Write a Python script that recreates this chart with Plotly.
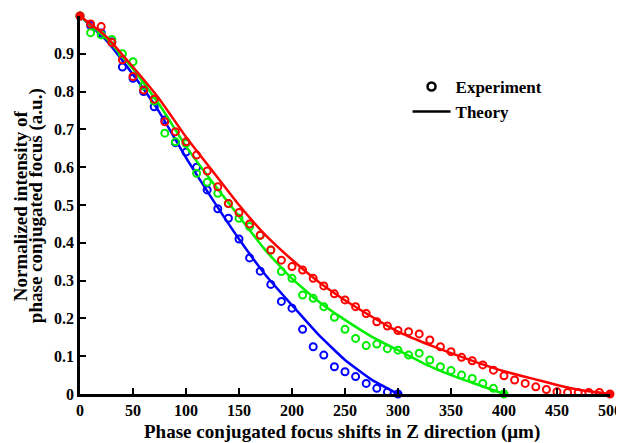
import plotly.graph_objects as go

# ---- data ----
theory_x_blue = [0, 25, 50, 75, 100, 125, 150, 175, 200, 225, 250, 275, 300]
theory_y_blue = [1.0, 0.935, 0.845, 0.745, 0.625, 0.515, 0.41, 0.315, 0.235, 0.157, 0.09, 0.038, 0.0]

theory_x_green = [0, 25, 50, 75, 100, 125, 150, 175, 200, 225, 250, 275, 300, 325, 350, 375, 400]
theory_y_green = [1.0, 0.94, 0.86, 0.765, 0.655, 0.56, 0.47, 0.38, 0.305, 0.245, 0.196, 0.152, 0.116, 0.08, 0.05, 0.025, 0.0]

theory_x_red = [0, 25, 50, 75, 100, 125, 150, 175, 200, 225, 250, 275, 300, 325, 350, 375, 400, 425, 450, 475, 500]
theory_y_red = [1.0, 0.945, 0.865, 0.78, 0.68, 0.59, 0.50, 0.42, 0.355, 0.297, 0.248, 0.205, 0.165, 0.135, 0.108, 0.083, 0.06, 0.042, 0.024, 0.009, 0.0]

exp_x_blue = list(range(0, 301, 10))
exp_y_blue = [1.0, 0.975, 0.955, 0.932, 0.865, 0.835, 0.80, 0.76, 0.725, 0.665,
              0.64, 0.60, 0.54, 0.49, 0.465, 0.41, 0.36, 0.325, 0.29, 0.245,
              0.227, 0.171, 0.125, 0.103, 0.072, 0.059, 0.046, 0.028, 0.015, 0.005, 0.0]

exp_x_green = list(range(0, 401, 10))
exp_y_green = [1.0, 0.956, 0.95, 0.938, 0.90, 0.879, 0.815, 0.775, 0.69, 0.667,
               0.663, 0.584, 0.56, 0.531, 0.504, 0.465, 0.443, 0.42, 0.381, 0.324,
               0.306, 0.262, 0.253, 0.231, 0.203, 0.171, 0.147, 0.128, 0.132, 0.12,
               0.116, 0.103, 0.108, 0.09, 0.072, 0.062, 0.05, 0.041, 0.028, 0.015, 0.0]

exp_x_red = list(range(0, 501, 10))
exp_y_red = [1.0, 0.979, 0.972, 0.93, 0.884, 0.84, 0.804, 0.78, 0.72, 0.694,
             0.667, 0.632, 0.59, 0.548, 0.504, 0.48, 0.45, 0.42, 0.381, 0.354,
             0.337, 0.328, 0.306, 0.286, 0.265, 0.249, 0.231, 0.213, 0.191, 0.18,
             0.168, 0.165, 0.159, 0.143, 0.125, 0.112, 0.097, 0.088, 0.077, 0.063,
             0.048, 0.037, 0.028, 0.019, 0.012, 0.006, 0.004, 0.004, 0.004, 0.004, 0.0]

x_ticks = [0, 50, 100, 150, 200, 250, 300, 350, 400, 450, 500]
y_ticks = [0, 0.1, 0.2, 0.3, 0.4, 0.5, 0.6, 0.7, 0.8, 0.9, 1]
y_tick_labels = ["0", "0.1", "0.2", "0.3", "0.4", "0.5", "0.6", "0.7", "0.8", "0.9", "1"]

x_title = "Phase conjugated focus shifts in Z direction (μm)"
y_title_lines = ["Normalized intensity of", "phase conjugated focus (a.u.)"]

series = [
    ("#0000ff", exp_x_blue, exp_y_blue, theory_x_blue, theory_y_blue),
    ("#00ee00", exp_x_green, exp_y_green, theory_x_green, theory_y_green),
    ("#ff0000", exp_x_red, exp_y_red, theory_x_red, theory_y_red),
]

FONT = "Liberation Serif, Times New Roman, serif"

fig = go.Figure()
for color, ex, ey, tx, ty in series:
    symbols = ["circle" if (i == 0 or i == len(ex) - 1) else "circle-open" for i in range(len(ex))]
    fig.add_trace(go.Scatter(
        x=ex, y=ey, mode="markers", showlegend=False, cliponaxis=False,
        marker=dict(symbol=symbols, size=7, color=color, line=dict(color=color, width=2)),
    ))
    fig.add_trace(go.Scatter(
        x=tx, y=ty, mode="lines", showlegend=False, cliponaxis=False,
        line=dict(color=color, width=2.5, shape="spline", smoothing=0.4),
    ))

# legend entries
fig.add_trace(go.Scatter(
    x=[None], y=[None], mode="markers", name="Experiment",
    marker=dict(symbol="circle-open", size=8, color="black", line=dict(color="black", width=2.5)),
))
fig.add_trace(go.Scatter(
    x=[None], y=[None], mode="lines", name="Theory",
    line=dict(color="black", width=2.5),
))

axis_common = dict(
    showgrid=False, zeroline=False, showline=True, linecolor="black", linewidth=2.5,
    ticks="inside", ticklen=6, tickwidth=2, tickcolor="black",
    tickfont=dict(family=FONT, size=16, color="black", weight="bold"),
    mirror=False, automargin=False,
)

fig.update_xaxes(range=[0, 500], tickvals=x_ticks, ticktext=[str(v) for v in x_ticks], **axis_common)
fig.update_yaxes(range=[0, 1], tickvals=y_ticks, ticktext=y_tick_labels, **axis_common)

# axis titles as annotations
fig.add_annotation(
    text="<b>" + x_title + "</b>", xref="paper", yref="paper",
    x=0.494, y=-0.1, xanchor="center", yanchor="middle", showarrow=False,
    font=dict(family=FONT, size=19, color="black"),
)
for xp, line in zip([-0.1132, -0.0830], y_title_lines):
    fig.add_annotation(
        text="<b>" + line + "</b>", xref="paper", yref="paper",
        x=xp, y=0.497, xanchor="center", yanchor="middle", textangle=-90, showarrow=False,
        font=dict(family=FONT, size=19, color="black"),
    )

fig.update_layout(
    width=616, height=435,
    margin=dict(l=72, r=14, t=8, b=49),
    paper_bgcolor="white", plot_bgcolor="white",
    font=dict(family=FONT, size=16, color="black", weight="bold"),
    legend=dict(x=0.618, y=0.86, xanchor="left", yanchor="top", itemwidth=38,
                bgcolor="rgba(0,0,0,0)", tracegroupgap=0,
                font=dict(family=FONT, size=17, color="black", weight="bold")),
)

fig.write_html("out.html")
